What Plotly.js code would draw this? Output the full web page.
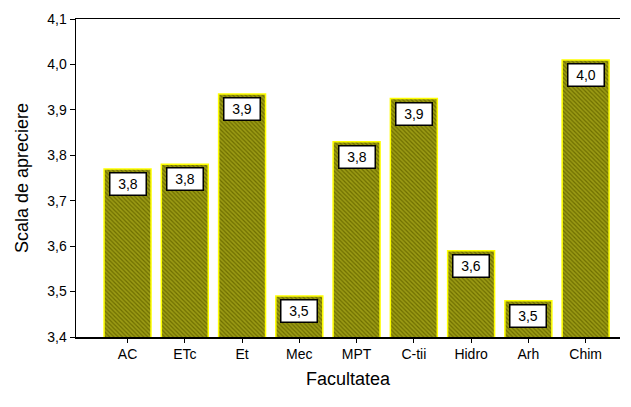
<!DOCTYPE html>
<html>
<head>
<meta charset="utf-8">
<script src="https://cdn.plot.ly/plotly-3.0.1.min.js"></script>
<style>html,body{margin:0;padding:0;background:#fff;}#chart{width:631px;height:407px;}</style>
</head>
<body>
<div id="chart"></div>
<script>
var categories = ["AC", "ETc", "Et", "Mec", "MPT", "C-tii", "Hidro", "Arh", "Chim"];
var values = [3.77, 3.78, 3.935, 3.49, 3.83, 3.925, 3.59, 3.48, 4.01];
var yTicks = [3.4, 3.5, 3.6, 3.7, 3.8, 3.9, 4.0, 4.1];

function fmt(v) { return v.toFixed(1).replace('.', ','); }

var FONT = "'Liberation Sans', Arial, sans-serif";

var trace = {
  type: 'bar',
  x: categories,
  y: values,
  width: 0.82,
  marker: {
    color: '#8a8a10',
    line: {color: '#ffff00', width: 1.5},
    pattern: {shape: '\\', fgcolor: '#6e6e00', bgcolor: '#9a9a14', size: 3, solidity: 0.4}
  },
  hoverinfo: 'skip'
};

var annotations = categories.map(function (c, i) {
  return {
    x: c, y: values[i], xref: 'x', yref: 'y',
    text: fmt(values[i]),
    showarrow: false,
    yanchor: 'top', yshift: -3,
    bgcolor: '#ffffff', bordercolor: '#000000', borderwidth: 1.5, borderpad: 1,
    width: 33, height: 19,
    font: {family: FONT, size: 14, color: '#000'}
  };
});

var layout = {
  width: 631, height: 407,
  margin: {l: 76, r: 11, t: 19, b: 70},
  paper_bgcolor: '#fff', plot_bgcolor: '#fff',
  separators: ',.',
  showlegend: false,
  font: {family: FONT, size: 13, color: '#000'},
  xaxis: {
    range: [-0.9, 8.6],
    showgrid: false, zeroline: false,
    showline: true, linecolor: '#000', linewidth: 1.5, mirror: true,
    ticks: 'outside', ticklen: 4, tickcolor: '#000', tickwidth: 1,
    tickfont: {family: FONT, size: 14},
    title: {text: 'Facultatea', font: {family: FONT, size: 18}, standoff: 11}
  },
  yaxis: {
    range: [3.4, 4.1],
    tickvals: yTicks,
    ticktext: yTicks.map(fmt),
    showgrid: false, zeroline: false,
    showline: true, linecolor: '#000', linewidth: 1.5,
    ticks: 'outside', ticklen: 5, tickcolor: '#000', tickwidth: 1,
    tickfont: {family: FONT, size: 14},
    title: {text: 'Scala de apreciere', font: {family: FONT, size: 18}, standoff: 14}
  },
  annotations: annotations
};

Plotly.newPlot('chart', [trace], layout, {displayModeBar: false, staticPlot: true});
</script>
</body>
</html>
